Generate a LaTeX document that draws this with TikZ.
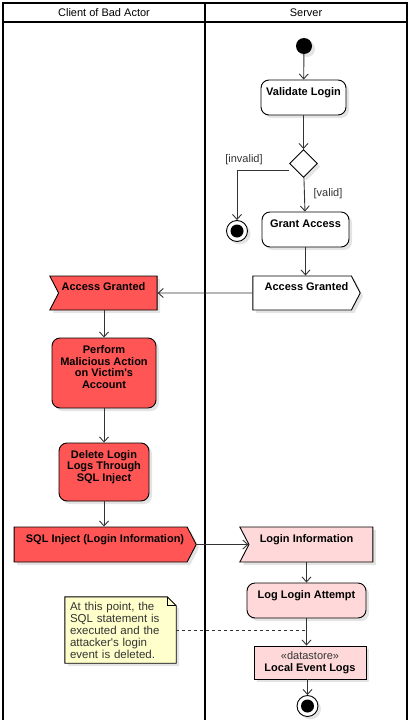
\documentclass[tikz,border=0pt]{standalone}
\usepackage{fontspec}
\setmainfont{Liberation Sans}
\usetikzlibrary{arrows.meta,shapes.geometric,shapes.symbols,shadows,backgrounds}

\definecolor{actred}{HTML}{FF5555}
\definecolor{actpink}{HTML}{FFD9D9}
\definecolor{notebg}{HTML}{FFFFCC}
\definecolor{linegray}{HTML}{333333}

\begin{document}
\begin{tikzpicture}[x=1pt,y=-1pt,
  font=\fontsize{11}{12}\selectfont,
  shade/.style={drop shadow={shadow xshift=3pt,shadow yshift=-3pt,fill=black!30,opacity=0.35}},
  lane/.style={draw=black,line width=1.8pt},
  flow/.style={draw=linegray,line width=0.9pt,-{Straight Barb[length=5pt,width=9pt]}},
  boxtext/.style={font=\fontsize{11}{11.5}\selectfont\bfseries,align=center,inner sep=3pt,
    execute at end node={\rule[-12pt]{0pt}{12pt}}},
  act/.style={boxtext,draw=black,fill=white,line width=0.9pt,rounded corners=8pt,shade},
  sendsig/.style={boxtext,draw=black,line width=0.9pt,signal,signal to=east,signal pointer angle=125,shade,
    execute at begin node={\hspace*{8.8pt}}},
  recvsig/.style={boxtext,draw=black,line width=0.9pt,signal,signal from=west,signal to=nowhere,signal pointer angle=125,shade,
    execute at end node={\hspace*{8.8pt}}},
  choice/.style={diamond,draw=black,line width=0.9pt,fill=white,minimum width=28pt,minimum height=28pt,inner sep=0pt,shade},
  start/.style={circle,fill=black,minimum size=16pt,inner sep=0pt,shade},
  final/.style={circle,draw=black,line width=0.9pt,fill=white,minimum size=21pt,inner sep=0pt,shade,
    path picture={\fill[black] (path picture bounding box.center) circle (6.5pt);}},
  store/.style={draw=black,line width=0.9pt,fill=actpink,align=center,inner sep=2pt,shade},
  guard/.style={text=linegray},
  note/.style={text=linegray,font=\fontsize{11.5}{12}\selectfont,text width=101pt,align=left,
    inner xsep=5pt,inner ysep=0pt,minimum height=66pt}]

\useasboundingbox (0,0) rectangle (410,720);

\draw[lane] (3,22) -- (3,721);
\draw[lane] (205,3) -- (205,721);
\draw[lane] (407,22) -- (407,721);
\draw[lane] (3,3) rectangle (407,22);
\node (clientHead) at (104,12.5) {Client of Bad Actor};
\node (serverHead) at (306,12.5) {Server};

\node[start] (init) at (304,46) {};
\node[act,minimum width=85pt,minimum height=35pt] (validate) at (303.5,97.5) {Validate Login};
\node[choice] (check) at (303.5,163.5) {};
\node[final] (deny) at (237,231) {};
\node[act,minimum width=87pt,minimum height=35pt] (grant) at (305.5,229.5) {Grant Access};
\node[guard] (invalidTxt) at (244,160) {[invalid]};
\node[guard] (validTxt) at (328,194) {[valid]};
\node[sendsig,fill=white,minimum width=105pt,minimum height=34pt] (sendGrant) at (302.1,293) {Access Granted};
\node[recvsig,fill=actred,minimum width=105pt,minimum height=34pt] (recvGrant) at (107.9,293) {Access Granted};
\node[act,fill=actred,minimum width=104pt,minimum height=70pt] (perform) at (104,373) {Perform\\Malicious Action\\on Victim\textquotesingle s\\Account};
\node[act,fill=actred,minimum width=90pt,minimum height=58pt] (wipe) at (104,472) {Delete Login\\Logs Through\\SQL Inject};
\node[sendsig,fill=actred,minimum width=178pt,minimum height=35pt] (inject) at (100.6,544.5) {SQL Inject (Login Information)};
\node[recvsig,fill=actpink,minimum width=133pt,minimum height=35pt] (loginInfo) at (310.9,544.5) {Login Information};
\node[act,fill=actpink,minimum width=119pt,minimum height=35pt] (logAttempt) at (306.5,600.5) {Log Login Attempt};
\node[store,minimum width=112pt,minimum height=33pt] (eventLogs) at (310,662.5) {{\color{linegray}«datastore»}\\\textbf{Local Event Logs}};
\node[final] (done) at (307.5,706) {};
\node[note] (remark) at (120.5,630) {At this point, the\\SQL statement is\\executed and the\\attacker\textquotesingle s login\\event is deleted.};

\begin{scope}[on background layer]
\filldraw[draw=black,line width=0.9pt,fill=notebg,shade] (remark.south west) -- (remark.north west)
  -- ([xshift=-9pt]remark.north east) -- ([yshift=-9pt]remark.north east) -- (remark.south east) -- cycle;
\draw[line width=0.9pt] ([xshift=-9pt]remark.north east) |- ([yshift=-9pt]remark.north east);
\end{scope}

\draw[flow] (init) -- (validate);
\draw[flow] (validate) -- (check);
\draw[flow] ([yshift=-7pt]check.west) -| (deny);
\draw[flow] (check) -- (grant);
\draw[flow] (grant) -- (grant |- sendGrant.north);
\draw[flow] (sendGrant) -- (recvGrant);
\draw[flow] (recvGrant.south -| perform) -- (perform);
\draw[flow] (perform) -- (wipe);
\draw[flow] (wipe) -- (wipe |- inject.north);
\draw[flow] (inject) -- (loginInfo);
\draw[flow] (loginInfo.south -| logAttempt) -- (logAttempt);
\draw[flow] (logAttempt) -- (logAttempt.south |- eventLogs.north);
\draw[flow] (done |- eventLogs.south) -- (done);
\draw[linegray,line width=0.8pt,dash pattern=on 3pt off 3pt] (remark.east) -- (remark.east -| logAttempt.south);

\end{tikzpicture}
\end{document}
